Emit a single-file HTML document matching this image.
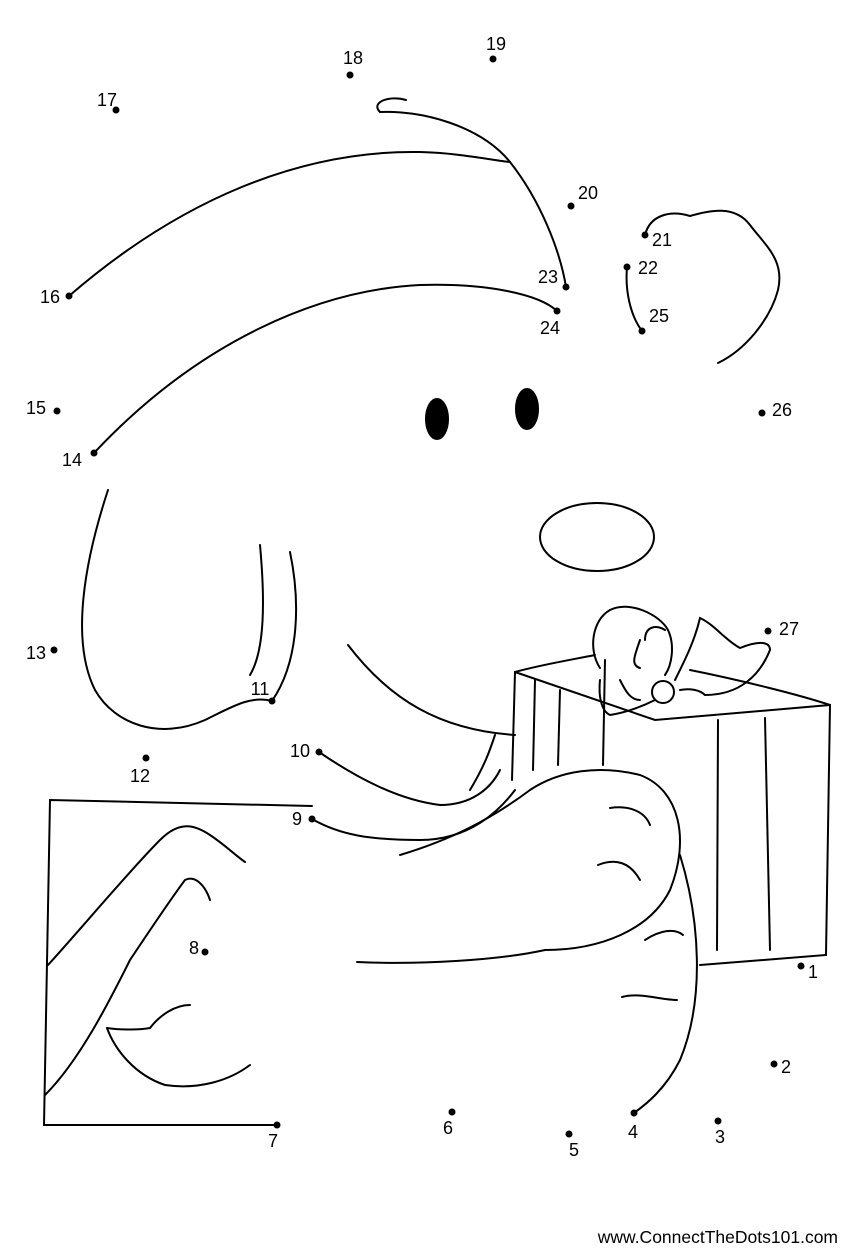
<!DOCTYPE html>
<html><head><meta charset="utf-8"><style>
html,body{margin:0;padding:0;background:#fff;}
svg{display:block;}
text{font-family:"Liberation Sans",sans-serif;font-size:18px;fill:#000;}
</style></head><body>
<svg width="848" height="1250" viewBox="0 0 848 1250" xmlns="http://www.w3.org/2000/svg">
<g fill="none" stroke="#000" stroke-width="2" stroke-linecap="round">
<path d="M69,296 C180,200 300,150 420,152 C460,153 490,160 510,162"/>
<path d="M406,100 C390,95 370,102 380,112 C420,110 480,125 510,162 C540,200 560,250 566,287"/>
<path d="M94,453 C200,340 320,290 420,285 C490,283 540,295 557,311"/>
<path d="M645,235 C650,215 670,210 690,216 C710,210 735,205 750,225 C765,245 785,260 778,290 C770,320 745,350 718,363"/>
<path d="M627,267 C625,290 630,315 642,331"/>
<ellipse cx="437" cy="419" rx="11" ry="20" fill="#000"/>
<ellipse cx="527" cy="409" rx="11" ry="20" fill="#000"/>
<ellipse cx="597" cy="537" rx="57" ry="34"/>
<path d="M108,490 C85,560 70,640 95,690 C115,725 160,740 205,720 C230,708 250,695 272,701"/>
<path d="M260,545 C265,600 265,650 250,675"/>
<path d="M290,552 C300,600 300,660 272,701"/>
<path d="M348,645 C390,700 440,730 515,735"/>
<path d="M319,752 C360,780 400,800 440,805 C470,805 490,790 500,770"/>
<path d="M495,735 C490,750 485,765 470,790"/>
<path d="M312,819 C340,835 370,840 420,840 C470,840 500,810 515,790"/>
<path d="M515,672 L512,780"/>
<path d="M515,672 L655,720 L830,705 L826,955 L700,965"/>
<path d="M515,672 C540,665 570,660 595,655"/>
<path d="M690,670 C740,680 800,695 830,705"/>
<path d="M605,660 L603,765"/>
<path d="M718,720 L717,950"/>
<path d="M765,718 L770,950"/>
<path d="M535,680 L533,770"/>
<path d="M560,690 L558,765"/>
<path d="M600,668 C588,650 592,620 610,610 C630,600 660,615 668,630 C675,645 672,665 665,675"/>
<path d="M640,640 C635,655 630,665 640,668"/>
<path d="M665,630 C658,625 645,625 645,640"/>
<path d="M675,680 C685,660 695,640 700,618 C715,625 725,640 740,648 C760,640 770,642 770,650 C760,675 740,695 705,695 C700,690 690,688 680,690"/>
<path d="M600,680 C598,700 603,712 610,715 C630,712 645,705 655,700"/>
<circle cx="663" cy="692" r="11"/>
<path d="M620,680 C625,690 630,700 640,700"/>
<path d="M357,962 C420,965 500,960 545,950 C600,950 650,930 670,890 C690,840 680,790 640,775 C600,765 560,770 530,790 C490,820 450,840 400,855"/>
<path d="M610,808 C630,805 645,812 650,825"/>
<path d="M598,865 C615,858 630,862 640,880"/>
<path d="M645,940 C660,930 675,928 683,935"/>
<path d="M622,997 C640,992 660,1000 677,1000"/>
<path d="M680,855 C700,920 705,1000 680,1060 C665,1090 645,1105 634,1113"/>
<path d="M312,806 L50,800 L44,1125 L277,1125"/>
<path d="M48,965 C80,930 130,870 160,840 C180,820 195,825 210,835 C225,845 235,855 245,862"/>
<path d="M45,1095 C80,1060 110,1000 130,960 C150,930 170,900 185,880 C195,875 205,885 210,900"/>
<path d="M107,1028 C115,1050 135,1075 165,1085 C200,1090 230,1080 250,1065"/>
<path d="M107,1028 C120,1030 140,1030 150,1028"/>
<path d="M150,1028 C160,1015 175,1005 190,1005"/>
</g>
<g fill="#000">
<circle cx="116" cy="110" r="3.5"/><circle cx="350" cy="75" r="3.5"/><circle cx="493" cy="59" r="3.5"/>
<circle cx="571" cy="206" r="3.5"/><circle cx="645" cy="235" r="3.5"/><circle cx="627" cy="267" r="3.5"/>
<circle cx="566" cy="287" r="3.5"/><circle cx="557" cy="311" r="3.5"/><circle cx="642" cy="331" r="3.5"/>
<circle cx="762" cy="413" r="3.5"/><circle cx="69" cy="296" r="3.5"/><circle cx="57" cy="411" r="3.5"/>
<circle cx="94" cy="453" r="3.5"/><circle cx="54" cy="650" r="3.5"/><circle cx="146" cy="758" r="3.5"/>
<circle cx="272" cy="701" r="3.5"/><circle cx="319" cy="752" r="3.5"/><circle cx="312" cy="819" r="3.5"/>
<circle cx="205" cy="952" r="3.5"/><circle cx="277" cy="1125" r="3.5"/><circle cx="452" cy="1112" r="3.5"/>
<circle cx="569" cy="1134" r="3.5"/><circle cx="634" cy="1113" r="3.5"/><circle cx="718" cy="1121" r="3.5"/>
<circle cx="774" cy="1064" r="3.5"/><circle cx="801" cy="966" r="3.5"/><circle cx="768" cy="631" r="3.5"/>
</g>
<g text-anchor="middle">
<text x="107" y="106">17</text><text x="353" y="64">18</text><text x="496" y="50">19</text>
<text x="588" y="199">20</text><text x="662" y="246">21</text><text x="648" y="274">22</text>
<text x="548" y="283">23</text><text x="550" y="334">24</text><text x="659" y="322">25</text>
<text x="782" y="416">26</text><text x="50" y="303">16</text><text x="36" y="414">15</text>
<text x="72" y="466">14</text><text x="36" y="659">13</text><text x="140" y="782">12</text>
<text x="260" y="695">11</text><text x="300" y="757">10</text><text x="297" y="825">9</text>
<text x="194" y="954">8</text><text x="273" y="1147">7</text><text x="448" y="1134">6</text>
<text x="574" y="1156">5</text><text x="633" y="1138">4</text><text x="720" y="1143">3</text>
<text x="786" y="1073">2</text><text x="813" y="978">1</text><text x="789" y="635">27</text>
</g>
<text x="838" y="1243" text-anchor="end" style="font-size:17.5px">www.ConnectTheDots101.com</text>
</svg>
</body></html>
